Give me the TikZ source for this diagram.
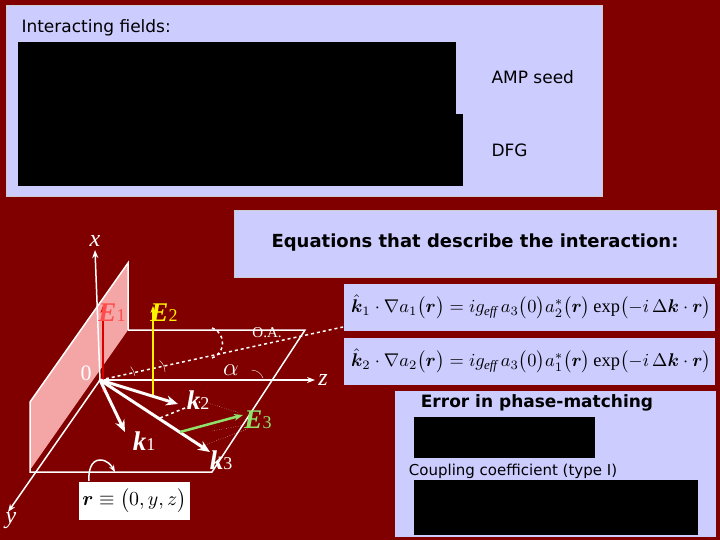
\documentclass[tikz,border=0pt]{standalone}
\usepackage{fontspec}
\usepackage{amsmath}
\setmainfont{Liberation Serif}
\newfontfamily\vsans{DejaVu Sans}
\usetikzlibrary{arrows.meta}
\definecolor{bg}{HTML}{800000}
\definecolor{lav}{HTML}{CCCCFF}
\definecolor{pinkp}{HTML}{F4A6A6}
\definecolor{egreen}{HTML}{8FE36A}
\newcommand{\lblE}[2]{\bfseries\itshape #1\textmd{\upshape\fontsize{18}{20}\selectfont #2}}
\begin{document}
\begin{tikzpicture}[x=1pt,y=-1pt,
  panel/.style={fill=lav,draw=gray!40,line width=1pt},
  blk/.style={fill=black},
  lbl/.style={font=\vsans\fontsize{17}{19}\selectfont,anchor=west},
  ax/.style={white,line width=1.5pt,-{Stealth[length=8pt]}},
  kv/.style={white,line width=3pt,-{Stealth[length=12pt,width=10pt]}},
  vl/.style={font=\fontsize{27}{29}\selectfont,inner sep=0pt},
  axl/.style={white,font=\itshape\fontsize{24}{26}\selectfont,inner sep=0pt}]
\useasboundingbox (0,0) rectangle (720,540);
\fill[bg] (0,0) rectangle (720,540);
% top panel
\draw[panel] (6,6) rectangle (602,197);
\node[lbl] (t1) at (18,28) {Interacting fields:};
\fill[blk] (18,42) rectangle (456,114);
\fill[blk] (18,114) rectangle (463,186);
\node[lbl] (amp) at (488,77) {AMP seed};
\node[lbl] (dfg) at (488,150) {DFG};
% equations
\draw[panel] (234,211) rectangle (716,277);
\node[font=\vsans\bfseries\fontsize{18}{20}\selectfont] (eqt) at (475,243) {Equations that describe the interaction:};
\draw[panel,draw=bg] (343,283) rectangle (715,331);
\draw[panel,draw=bg] (343,337) rectangle (715,385);
\node (e1) at (531,307) {\resizebox{360pt}{!}{$\hat{\boldsymbol k}_1\cdot\nabla a_1\bigl(\boldsymbol r\bigr)=ig_{\mathit{eff}}\,a_3\bigl(0\bigr)a_2^{*}\bigl(\boldsymbol r\bigr)\exp\bigl(-i\,\Delta\boldsymbol k\cdot\boldsymbol r\bigr)$}};
\node (e2) at (531,361) {\resizebox{360pt}{!}{$\hat{\boldsymbol k}_2\cdot\nabla a_2\bigl(\boldsymbol r\bigr)=ig_{\mathit{eff}}\,a_3\bigl(0\bigr)a_1^{*}\bigl(\boldsymbol r\bigr)\exp\bigl(-i\,\Delta\boldsymbol k\cdot\boldsymbol r\bigr)$}};
\draw[panel,draw=bg] (394,390) rectangle (716,537);
\node[font=\vsans\bfseries\fontsize{17}{19}\selectfont] (err) at (537,403) {Error in phase-matching};
\fill[blk] (414,417) rectangle (595,458);
\node[font=\vsans\fontsize{15}{17}\selectfont] (cc) at (513,471) {Coupling coefficient (type I)};
\fill[blk] (414,480) rectangle (698,535);
% diagram
\coordinate (O) at (100,380);
\fill[pinkp] (30,402) -- (128,263) -- (128,330) -- (30,470) -- cycle;
\draw[white,line width=1.5pt] (30,402) -- (128,263) -- (128,330);
\draw[white,line width=1.5pt] (30,402) -- (30,472) -- (212,472) -- (305,330) -- (128,330);
\coordinate (xe) at (95,250);
\coordinate (ye) at (8,512);
\coordinate (ze) at (315,380);
\draw[ax] (O) -- (xe);
\draw[ax] (O) -- (ye);
\draw[ax] (O) -- (ze);
\node[axl] (xl) at (95,241) {x};
\node[axl] (yl) at (11,521) {y};
\node[axl] (zl) at (323,380) {z};
\node[axl,font=\fontsize{22}{24}\selectfont] (ol) at (86,373) {0};
\coordinate (OA) at (343,327);
\draw[white,dashed,line width=1.5pt] (O) -- (OA);
\node[white,font=\fontsize{15}{17}\selectfont] (oal) at (267,333) {O.A.};
\draw[white,dashed,line width=1.5pt] (212,358) arc[start angle=70,end angle=-70,radius=16];
\node[axl] (al) at (231,370) {$\alpha$};
\draw[white,thin] (135,376) arc[start angle=-10,end angle=-40,radius=20];
\draw[white,thin] (165,372) arc[start angle=0,end angle=-50,radius=15];
\draw[white,thin] (263,378) arc[start angle=-20,end angle=-90,radius=12];
% E fields
\draw[red!85!black,line width=2pt,-{Stealth[length=7pt]}] (103,392) -- (103,306);
\node[vl,text=red!70!white] (e1l) at (112,313) {\lblE{E}{1}};
\draw[yellow,line width=2pt,-{Stealth[length=7pt]}] (153,395) -- (153,306);
\node[vl,text=yellow] (e2l) at (164,313) {\lblE{E}{2}};
% k vectors
\draw[kv] (O) -- (178,404);
\draw[kv] (O) -- (125,432);
\draw[kv] (O) -- (210,452);
\draw[white,dashed,line width=1.5pt] (160,418) -- (200,402);
\draw[white,dotted,thin] (208,403) -- (240,413) (212,431) -- (245,425) (205,445) -- (250,428);
\draw[egreen,line width=2.5pt,-{Stealth[length=9pt]}] (180,432) -- (243,415);
\node[vl,text=white] (k2l) at (198,400) {\lblE{k}{2}};
\node[vl,text=white] (k1l) at (144,441) {\lblE{k}{1}};
\node[vl,text=white] (k3l) at (221,460) {\lblE{k}{3}};
\node[vl,text=egreen] (e3l) at (258,420) {\lblE{E}{3}};
% r box
\node[fill=white,minimum width=111pt,minimum height=38pt,inner sep=1pt] (rb) at (134.5,501) {\resizebox{104pt}{!}{$\boldsymbol r\equiv\bigl(0,y,z\bigr)$}};
\draw[white,line width=1.5pt,-{Stealth[length=7pt]}] (89,481) to[out=95,in=180] (100,460) to[out=0,in=120] (115,472);
\end{tikzpicture}
\end{document}
